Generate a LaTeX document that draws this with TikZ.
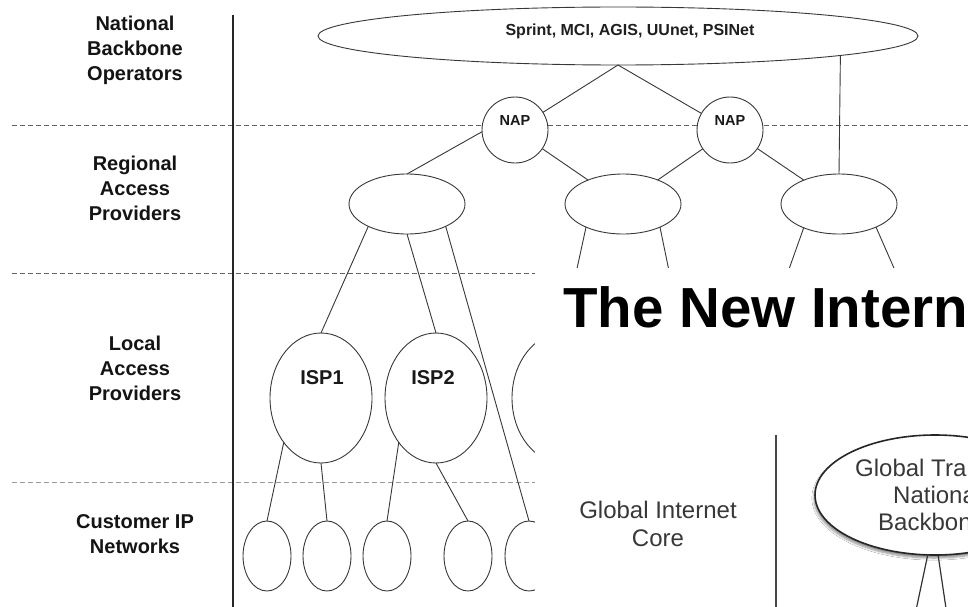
\documentclass[tikz,border=0pt]{standalone}
\usepackage{fontspec}
\setmainfont{Liberation Sans}
\usetikzlibrary{shapes.geometric,shadows.blur}
\begin{document}
\begin{tikzpicture}[x=1pt,y=-1pt,
  lbl/.style={font=\fontsize{20}{25}\selectfont\bfseries, align=center, text=black!92},
  ell/.style={ellipse, draw=black!78, line width=0.9pt, fill=white, inner sep=0pt, outer sep=0pt},
  circ/.style={circle, draw=black!78, line width=0.9pt, fill=white, inner sep=0pt, outer sep=0pt, minimum size=66pt},
  regell/.style={ell, minimum width=116pt, minimum height=60pt},
  ispell/.style={ell, minimum width=102pt, minimum height=130pt},
  custell/.style={ell, minimum width=48pt, minimum height=70pt},
  naptxt/.style={font=\fontsize{14.5}{17}\selectfont\bfseries, text=black!90, inner sep=0pt},
  isptxt/.style={font=\fontsize{20}{24}\selectfont\bfseries, text=black!90, inner sep=0pt},
  dashline/.style={draw=black!62, dash pattern=on 5pt off 3pt, line width=0.9pt},
  conn/.style={draw=black!78, line width=0.9pt},
  gtxt/.style={font=\fontsize{24}{28}\selectfont, text=black!78, inner sep=0pt}
]
\useasboundingbox (0,0) rectangle (968,607);
\clip (0,0) rectangle (968,607);
\fill[white] (0,0) rectangle (968,607);

% dashed layer separators
\coordinate (d1a) at (12,125);  \coordinate (d1b) at (968,125);
\coordinate (d2a) at (12,273);  \coordinate (d2b) at (968,273);
\coordinate (d3a) at (12,482);  \coordinate (d3b) at (968,482);
\draw[dashline] (d1a) -- (d1b);
\draw[dashline] (d2a) -- (d2b);
\draw[dashline, draw=black!40] (d3a) -- (d3b);

% vertical separator
\coordinate (v1a) at (233,15); \coordinate (v1b) at (233,607);
\draw[draw=black!85, line width=1.1pt] (v1a) -- (v1b);

% left labels
\node[lbl] (l1) at (135,50) {National\\Backbone\\Operators};
\node[lbl] (l2) at (135,188) {Regional\\Access\\Providers};
\node[lbl] (l3) at (135,368) {Local\\Access\\Providers};
\node[lbl] (l4) at (135,534) {Customer IP\\Networks};

% backbone
\node[ell, minimum width=600pt, minimum height=58pt] (bb) at (618,36) {};
\node[font=\fontsize{16}{19}\selectfont\bfseries, text=black!88, inner sep=0pt] (bbt) at (630,31) {Sprint, MCI, AGIS, UUnet, PSINet};

% NAPs
\node[circ] (nap1) at (515,130) {};
\node[naptxt] (nap1t) at (515,121) {NAP};
\node[circ] (nap2) at (730,130) {};
\node[naptxt] (nap2t) at (730,121) {NAP};

% regional
\node[regell] (reg1) at (407,204) {};
\node[regell] (reg2) at (623,204) {};
\node[regell] (reg3) at (839,204) {};

% local ISPs
\node[ispell] (isp1) at (321,398) {};
\node[isptxt] (isp1t) at (322,378) {ISP1};
\node[ispell] (isp2) at (436,398) {};
\node[isptxt] (isp2t) at (433,378) {ISP2};
\node[ispell] (isp3) at (563,398) {};

% customers
\node[custell] (c1) at (267,556) {};
\node[custell] (c2) at (327,556) {};
\node[custell] (c3) at (387,556) {};
\node[custell] (c4) at (468,556) {};
\node[custell] (c5) at (529,556) {};

% connectors
\draw[conn] (bb.south) -- (nap1);
\draw[conn] (bb.south) -- (nap2);
\draw[conn] (bb.-5.6) -- (reg3.north);
\draw[conn] (nap1.183) -- (reg1.north);
\draw[conn] (nap1) -- (reg2);
\draw[conn] (nap2) -- (reg2);
\draw[conn] (nap2) -- (reg3);
\draw[conn] (reg1.210) -- (isp1.north);
\draw[conn] (reg1.south) -- (isp2.north);
\draw[conn] (reg1.-30) -- (c5.north);
\draw[conn] (reg2.212) -- (isp3.north);
\coordinate (h1) at (675,300);
\coordinate (h2) at (778,300);
\coordinate (h3) at (908,300);
\draw[conn] (reg2.-32) -- (h1);
\draw[conn] (reg3.214) -- (h2);
\draw[conn] (reg3.-32) -- (h3);
\draw[conn] (isp1.230) -- (c1.north);
\draw[conn] (isp1.south) -- (c2.north);
\draw[conn] (isp2.230) -- (c3.north);
\draw[conn] (isp2.south) -- (c4.north);

% overlaid second slide
\fill[white] (535,268) rectangle (968,607);
\node[font=\fontsize{56.5}{60}\selectfont\bfseries, text=black, anchor=base west, inner sep=0pt] (title) at (563,327) {The New Intern};
\node[gtxt, align=center] (gic) at (658,524) {Global Internet\\Core};
\coordinate (v2a) at (776,435); \coordinate (v2b) at (776,607);
\draw[draw=black!72, line width=2pt] (v2a) -- (v2b);
\node[ellipse, draw=black!85, line width=1.6pt, fill=white, inner sep=0pt, minimum width=240pt, minimum height=120pt,
      blur shadow={shadow xshift=-1pt, shadow yshift=-3pt, shadow opacity=45, shadow blur steps=6}] (gt) at (935,495) {};
\node[gtxt, anchor=west] (gt1) at (855,468) {Global Tra};
\node[gtxt, anchor=west] (gt2) at (893,495) {Nationa};
\node[gtxt, anchor=west] (gt3) at (878,522) {Backbon};
\coordinate (g1) at (915,615);
\coordinate (g2) at (947,615);
\draw[draw=black!80, line width=1.2pt] (gt.-97.6) -- (g1);
\draw[draw=black!80, line width=1.2pt] (gt.-87) -- (g2);
\end{tikzpicture}
\end{document}
